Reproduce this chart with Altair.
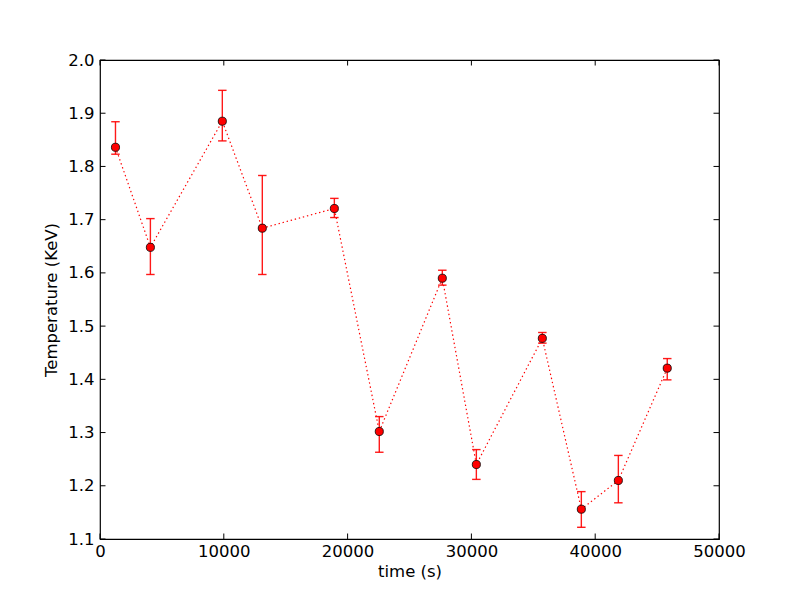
import altair as alt
import pandas as pd

time_s = [1250, 4070, 9880, 13110, 18930, 22560, 27650, 30400, 35730, 38880, 41870, 45820]
temp_kev = [1.836, 1.648, 1.885, 1.684, 1.721, 1.302, 1.590, 1.240, 1.477, 1.156, 1.210, 1.421]
err_low = [1.823, 1.597, 1.848, 1.597, 1.704, 1.263, 1.577, 1.212, 1.468, 1.122, 1.168, 1.399]
err_high = [1.884, 1.702, 1.943, 1.783, 1.740, 1.330, 1.605, 1.268, 1.488, 1.189, 1.257, 1.439]
x_ticks = [0, 10000, 20000, 30000, 40000, 50000]
y_ticks = [1.1, 1.2, 1.3, 1.4, 1.5, 1.6, 1.7, 1.8, 1.9, 2.0]

W, H = 619, 479
FONT = "DejaVu Sans"
FS = 16.5
TK = 5.5

df = pd.DataFrame({"t": time_s, "T": temp_kev, "lo": err_low, "hi": err_high})
xt = pd.DataFrame({"t": x_ticks})
yt = pd.DataFrame({"T": y_ticks})

xscale = alt.Scale(domain=[0, 50000], nice=False, zero=False)
yscale = alt.Scale(domain=[1.1, 2.0], nice=False, zero=False)

xaxis = alt.Axis(values=x_ticks, format="d", ticks=False, domain=False, grid=False,
                 labelFlush=False, labelOverlap=False,
                 labelFont=FONT, labelFontSize=FS, labelColor="black", labelPadding=4,
                 title="time (s)", titleFont=FONT, titleFontSize=FS, titleFontWeight="normal",
                 titleColor="black", titlePadding=4)
yaxis = alt.Axis(values=y_ticks, format=".1f", ticks=False, domain=False, grid=False,
                 labelFlush=False, labelOverlap=False,
                 labelFont=FONT, labelFontSize=FS, labelColor="black", labelPadding=6,
                 title="Temperature (KeV)", titleFont=FONT, titleFontSize=FS,
                 titleFontWeight="normal", titleColor="black", titlePadding=8)

X = alt.X("t:Q", scale=xscale, axis=xaxis)

base = alt.Chart(df)

line = base.mark_line(color="red", strokeWidth=1.2, strokeDash=[1.4, 2.8]).encode(
    x=X, y=alt.Y("T:Q", scale=yscale, axis=yaxis),
)
bars = base.mark_rule(color="red", strokeWidth=1.4, opacity=0.9).encode(
    x=X, y=alt.Y("lo:Q", scale=yscale, axis=yaxis), y2="hi:Q",
)
cap_lo = base.mark_tick(color="red", orient="horizontal", size=8.5, thickness=1.4, opacity=0.9).encode(
    x=X, y=alt.Y("lo:Q", scale=yscale, axis=yaxis),
)
cap_hi = base.mark_tick(color="red", orient="horizontal", size=8.5, thickness=1.4, opacity=0.9).encode(
    x=X, y=alt.Y("hi:Q", scale=yscale, axis=yaxis),
)
pts = base.mark_point(filled=True, fill="red", stroke="black", strokeWidth=0.8,
                      size=66, opacity=1).encode(
    x=X, y=alt.Y("T:Q", scale=yscale, axis=yaxis),
)

xt_bottom = alt.Chart(xt).mark_rule(color="black", strokeWidth=1).encode(
    x=X, y=alt.value(H), y2=alt.value(H - TK))
xt_top = alt.Chart(xt).mark_rule(color="black", strokeWidth=1).encode(
    x=X, y=alt.value(0), y2=alt.value(TK))
yt_left = alt.Chart(yt).mark_rule(color="black", strokeWidth=1).encode(
    y=alt.Y("T:Q", scale=yscale, axis=yaxis), x=alt.value(0), x2=alt.value(TK))
yt_right = alt.Chart(yt).mark_rule(color="black", strokeWidth=1).encode(
    y=alt.Y("T:Q", scale=yscale, axis=yaxis), x=alt.value(W), x2=alt.value(W - TK))

chart = alt.layer(line, bars, cap_lo, cap_hi, pts, xt_bottom, xt_top, yt_left, yt_right).properties(
    width=W, height=H,
    autosize=alt.AutoSizeParams(type="none"),
    padding={"left": 92, "top": 52, "right": 73, "bottom": 53},
    background="white",
).configure_view(stroke="black", strokeWidth=1.2)

chart.save("out.html", embed_options={"renderer": "svg", "actions": False})
